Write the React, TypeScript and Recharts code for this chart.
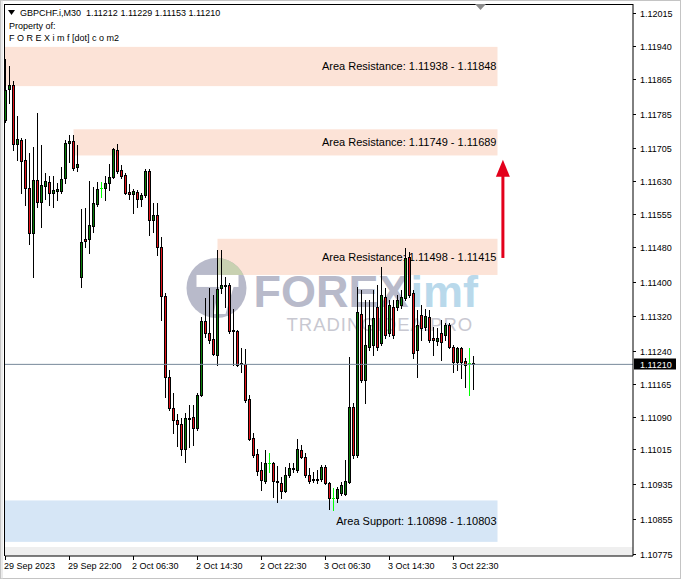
import React from 'react';
import { ComposedChart, Bar, XAxis, YAxis, ReferenceArea, ReferenceLine } from 'recharts';

// ---------- DATA (GBPCHF.i M30) ----------
const opens = [
  1.11770, 1.11841, 1.11851, 1.11715, 1.11724, 1.11679, 1.11614, 1.11511, 1.11633, 1.11582,
  1.11619, 1.11628, 1.11603, 1.11608, 1.11608, 1.11637, 1.11718, 1.11722, 1.11663, 1.11410,
  1.11497, 1.11497, 1.11527, 1.11578, 1.11614, 1.11614, 1.11626, 1.11640, 1.11702, 1.11656,
  1.11644, 1.11605, 1.11601, 1.11605, 1.11589, 1.11598, 1.11653, 1.11541, 1.11553, 1.11479,
  1.11367, 1.11181, 1.11110, 1.11082, 1.11073, 1.11016, 1.11087, 1.11089, 1.11064, 1.11140,
  1.11309, 1.11282, 1.11268, 1.11231, 1.11385, 1.11390, 1.11392, 1.11289, 1.11287, 1.11213,
  1.11211, 1.11131, 1.11041, 1.11004, 1.10968, 1.10943, 1.10984, 1.10983, 1.10943, 1.10938,
  1.10920, 1.10956, 1.10970, 1.10968, 1.11014, 1.10998, 1.10956, 1.10947, 1.10945, 1.10947,
  1.10975, 1.10938, 1.10904, 1.10904, 1.10915, 1.10913, 1.10940, 1.11112, 1.11002, 1.11326,
  1.11174, 1.11250, 1.11254, 1.11342, 1.11259, 1.11364, 1.11282, 1.11342, 1.11342, 1.11346,
  1.11362, 1.11456, 1.11374, 1.11243, 1.11323, 1.11296, 1.11319, 1.11270, 1.11264, 1.11282,
  1.11277, 1.11300, 1.11250, 1.11215, 1.11248, 1.11218, 1.11212, 1.11212,
];
const highs = [
  1.11910, 1.11894, 1.11860, 1.11780, 1.11729, 1.11727, 1.11695, 1.11708, 1.11786, 1.11713,
  1.11649, 1.11642, 1.11642, 1.11626, 1.11663, 1.11724, 1.11736, 1.11736, 1.11713, 1.11566,
  1.11569, 1.11630, 1.11617, 1.11628, 1.11628, 1.11642, 1.11669, 1.11706, 1.11715, 1.11667,
  1.11649, 1.11624, 1.11612, 1.11610, 1.11603, 1.11658, 1.11658, 1.11580, 1.11580, 1.11502,
  1.11374, 1.11197, 1.11144, 1.11096, 1.11087, 1.11098, 1.11117, 1.11117, 1.11144, 1.11319,
  1.11362, 1.11385, 1.11369, 1.11472, 1.11472, 1.11410, 1.11397, 1.11337, 1.11289, 1.11248,
  1.11245, 1.11140, 1.11053, 1.11016, 1.10986, 1.11014, 1.11007, 1.10986, 1.10977, 1.10952,
  1.10975, 1.10984, 1.10984, 1.11039, 1.11025, 1.11007, 1.10972, 1.10963, 1.10968, 1.10979,
  1.10979, 1.10940, 1.10927, 1.10929, 1.10940, 1.10991, 1.11227, 1.11121, 1.11387, 1.11381,
  1.11358, 1.11358, 1.11381, 1.11392, 1.11433, 1.11385, 1.11358, 1.11358, 1.11369, 1.11381,
  1.11477, 1.11468, 1.11381, 1.11335, 1.11346, 1.11337, 1.11335, 1.11296, 1.11293, 1.11312,
  1.11305, 1.11305, 1.11254, 1.11250, 1.11250, 1.11225, 1.11248, 1.11229,
];
const lows = [
  1.11766, 1.11809, 1.11702, 1.11679, 1.11603, 1.11575, 1.11486, 1.11410, 1.11571, 1.11525,
  1.11589, 1.11575, 1.11571, 1.11587, 1.11603, 1.11626, 1.11674, 1.11656, 1.11653, 1.11387,
  1.11479, 1.11465, 1.11514, 1.11573, 1.11594, 1.11587, 1.11610, 1.11637, 1.11649, 1.11637,
  1.11601, 1.11589, 1.11557, 1.11571, 1.11573, 1.11594, 1.11507, 1.11514, 1.11461, 1.11312,
  1.11135, 1.11105, 1.11053, 1.11023, 1.11002, 1.10986, 1.11021, 1.11025, 1.11060, 1.11137,
  1.11273, 1.11259, 1.11231, 1.11209, 1.11374, 1.11342, 1.11282, 1.11209, 1.11206, 1.11193,
  1.11124, 1.11037, 1.10998, 1.10956, 1.10922, 1.10938, 1.10963, 1.10906, 1.10894, 1.10904,
  1.10917, 1.10952, 1.10963, 1.10963, 1.10995, 1.10952, 1.10938, 1.10940, 1.10938, 1.10943,
  1.10936, 1.10878, 1.10876, 1.10894, 1.10910, 1.10910, 1.10938, 1.10995, 1.10998, 1.11170,
  1.11121, 1.11243, 1.11231, 1.11243, 1.11254, 1.11270, 1.11275, 1.11270, 1.11335, 1.11339,
  1.11358, 1.11364, 1.11225, 1.11181, 1.11266, 1.11289, 1.11261, 1.11231, 1.11254, 1.11220,
  1.11266, 1.11248, 1.11193, 1.11197, 1.11179, 1.11158, 1.11140, 1.11153,
];
const closes = [
  1.11839, 1.11851, 1.11715, 1.11727, 1.11676, 1.11614, 1.11511, 1.11633, 1.11582, 1.11621,
  1.11630, 1.11603, 1.11610, 1.11612, 1.11635, 1.11718, 1.11722, 1.11660, 1.11669, 1.11491,
  1.11493, 1.11530, 1.11580, 1.11612, 1.11614, 1.11626, 1.11640, 1.11704, 1.11653, 1.11642,
  1.11603, 1.11601, 1.11608, 1.11589, 1.11598, 1.11653, 1.11541, 1.11553, 1.11479, 1.11367,
  1.11181, 1.11110, 1.11082, 1.11073, 1.11016, 1.11087, 1.11085, 1.11064, 1.11140, 1.11309,
  1.11282, 1.11266, 1.11234, 1.11383, 1.11392, 1.11392, 1.11287, 1.11287, 1.11209, 1.11211,
  1.11128, 1.11039, 1.11002, 1.10965, 1.10945, 1.10984, 1.10984, 1.10943, 1.10940, 1.10920,
  1.10956, 1.10972, 1.10972, 1.11016, 1.10998, 1.10956, 1.10943, 1.10945, 1.10947, 1.10975,
  1.10938, 1.10904, 1.10904, 1.10924, 1.10933, 1.10943, 1.11112, 1.11002, 1.11330, 1.11174,
  1.11254, 1.11300, 1.11316, 1.11250, 1.11369, 1.11277, 1.11346, 1.11277, 1.11358, 1.11364,
  1.11454, 1.11369, 1.11236, 1.11300, 1.11293, 1.11321, 1.11266, 1.11266, 1.11270, 1.11261,
  1.11300, 1.11250, 1.11215, 1.11248, 1.11215, 1.11209, 1.11212, 1.11210,
];

const timeTickIdx = [0, 16, 32, 48, 64, 80, 96, 112];
const timeTickLabels = [
  '29 Sep 2023', '29 Sep 22:00', '2 Oct 06:30', '2 Oct 14:30',
  '2 Oct 22:30', '3 Oct 06:30', '3 Oct 14:30', '3 Oct 22:30',
];
const priceTicks = [
  1.12015, 1.1194, 1.11865, 1.11785, 1.11705, 1.1163, 1.11555, 1.1148, 1.114,
  1.1132, 1.1124, 1.1121, 1.11165, 1.1109, 1.11015, 1.10935, 1.10855, 1.10775,
];
const lastPrice = 1.1121;

const resistanceHigh = [1.11938, 1.11749, 1.11498];
const resistanceLow = [1.11848, 1.11689, 1.11415];
const resistanceStartBar = [-0.125, 17, 53];
const supportHigh = 1.10898;
const supportLow = 1.10803;
const zoneEndBar = 123;

const headerSymbol = 'GBPCHF.i,M30';
const headerOHLC = ['1.11212', '1.11229', '1.11153', '1.11210'];

// ---------- LAYOUT ----------
const W = 681;
const H = 579;
const X_MIN = -0.125;
const X_MAX = 156.875;
const Y_MIN = 1.107706;
const Y_MAX = 1.120363;
const FONT = '"Liberation Sans", Arial, sans-serif';

const data = opens.map((o, i) => ({
  i,
  o,
  h: highs[i],
  l: lows[i],
  c: closes[i],
  range: [lows[i], highs[i]],
}));

const Candle = (props: any) => {
  const { x, y, width, height, payload } = props;
  if (x == null || y == null || !payload) return null;
  const { o, h, l, c } = payload;
  const cx = Math.floor(x + width / 2) + 0.5;
  const k = h - l > 0 ? height / (h - l) : 0;
  const py = (v: number) => y + (h - v) * k;
  const yH = Math.round(py(h));
  const yL = Math.round(py(l));
  if (o === c) {
    const yy = Math.round(py(o)) + 0.5;
    return (
      <g>
        <line x1={cx} x2={cx} y1={yH} y2={yL + 1} stroke="#00ff00" strokeWidth={1} />
        <line x1={cx - 1.5} x2={cx + 1.5} y1={yy} y2={yy} stroke="#00ff00" strokeWidth={1} />
      </g>
    );
  }
  const top = Math.round(Math.min(py(o), py(c)));
  const bot = Math.round(Math.max(py(o), py(c)));
  const bull = c > o;
  return (
    <g>
      <line x1={cx} x2={cx} y1={yH} y2={yL + 1} stroke="#000" strokeWidth={1} />
      <rect
        x={cx - 1}
        y={top + 0.5}
        width={2}
        height={Math.max(bot - top, 1)}
        fill={bull ? '#0a7f0a' : '#e4141b'}
        stroke="#000"
        strokeWidth={1}
      />
    </g>
  );
};

const TimeTick = (props: any) => {
  const { x, y, payload } = props;
  const idx = timeTickIdx.indexOf(payload.value);
  const xx = Math.floor(x) + 0.5;
  return (
    <g>
      <line x1={xx} x2={xx} y1={y} y2={y + 4} stroke="#000" strokeWidth={1} />
      <text x={xx - 1.5} y={y + 13} fontSize={9} fontFamily={FONT} fill="#000" textAnchor="start">
        {idx >= 0 ? timeTickLabels[idx] : ''}
      </text>
    </g>
  );
};

const PriceTick = (props: any) => {
  const { x, y, payload } = props;
  const v = payload.value as number;
  const yy = Math.round(y) + 0.5;
  if (Math.abs(v - lastPrice) < 1e-7) {
    return (
      <g>
        <rect x={x + 1} y={yy - 6} width={42} height={11} fill="#000" />
        <text x={x + 7} y={yy + 3} fontSize={9} fontFamily={FONT} fill="#fff">
          {v.toFixed(5)}
        </text>
      </g>
    );
  }
  return (
    <g>
      <line x1={x} x2={x + 3} y1={yy} y2={yy} stroke="#000" strokeWidth={1} />
      <text x={x + 7} y={yy + 3} fontSize={9} fontFamily={FONT} fill="#000">
        {v.toFixed(5)}
      </text>
    </g>
  );
};

const zoneShape = (fill: string, label: string) => (p: any) => {
  const { x, y, width, height } = p;
  if (x == null) return null;
  return (
    <g>
      <rect x={x} y={y} width={width} height={height} fill={fill} stroke="none" />
      <text
        x={x + width - 1}
        y={y + height / 2 + 4}
        fontSize={11}
        fontFamily={FONT}
        fill="#000"
        textAnchor="end"
      >
        {label}
      </text>
    </g>
  );
};

const ArrowShape = (p: any) => {
  const { x, y, width, height } = p;
  if (x == null) return null;
  const cx = x + width / 2;
  const head = 17;
  return (
    <g>
      <rect x={cx - 1.5} y={y + head - 1} width={3} height={height - head + 1} fill="#e3001b" />
      <polygon points={`${x},${y + head} ${x + width},${y + head} ${cx},${y}`} fill="#e3001b" />
    </g>
  );
};

const WatermarkShape = (p: any) => {
  const { x, y } = p;
  if (x == null) return null;
  const ox = x;
  const oy = y;
  return (
    <g opacity={0.62}>
      <defs>
        <clipPath id="wmclip">
          <circle cx={ox + 33} cy={oy + 30} r={30} />
        </clipPath>
      </defs>
      <circle cx={ox + 33} cy={oy + 30} r={30} fill="#8e90aa" />
      <g clipPath="url(#wmclip)">
        <rect x={ox + 34} y={oy - 2} width={32} height={19} fill="#a9c79a" />
      </g>
      <rect x={ox + 13} y={oy + 17} width={42} height={12} fill="#ffffff" />
      <polygon
        points={`${ox + 36},${oy + 29} ${ox + 50},${oy + 29} ${ox + 42},${oy + 56} ${ox + 30},${oy + 56}`}
        fill="#ffffff"
      />
      <text x={ox + 70} y={oy + 49} fontSize={45} fontWeight="bold" fontFamily={FONT} fill="#8e90aa">
        FOREX
      </text>
      <text x={ox + 227} y={oy + 49} fontSize={45} fontWeight="bold" fontFamily={FONT} fill="#8fc2e0">
        imf
      </text>
      <text
        x={ox + 103}
        y={oy + 73}
        fontSize={18.5}
        fontFamily={FONT}
        fill="#a8a8b6"
        letterSpacing={1}
      >
        TRADINGIDEA.PRO
      </text>
    </g>
  );
};

export default function App() {
  return (
    <div style={{ position: 'absolute', left: 0, top: 0, width: W, height: H, background: '#fff' }}>
      <ComposedChart
        width={W}
        height={H}
        data={data}
        margin={{ top: 4, right: 0, bottom: 0, left: 5 }}
      >
        <XAxis
          dataKey="i"
          type="number"
          domain={[X_MIN, X_MAX]}
          allowDataOverflow
          ticks={timeTickIdx}
          interval={0}
          height={23}
          tickSize={0}
          tickMargin={0}
          tickLine={false}
          axisLine={{ stroke: '#000' }}
          tick={<TimeTick />}
        />
        <YAxis
          orientation="right"
          type="number"
          domain={[Y_MIN, Y_MAX]}
          allowDataOverflow
          ticks={priceTicks}
          interval={0}
          width={48}
          tickSize={0}
          tickMargin={0}
          tickLine={false}
          axisLine={{ stroke: '#000' }}
          tick={<PriceTick />}
        />
        {resistanceHigh.map((hi, k) => (
          <ReferenceArea
            key={'r' + k}
            x1={resistanceStartBar[k]}
            x2={zoneEndBar}
            y1={resistanceLow[k]}
            y2={hi}
            ifOverflow="hidden"
            shape={zoneShape('#fce3d7', `Area Resistance: ${hi.toFixed(5)} - ${resistanceLow[k].toFixed(5)}`)}
          />
        ))}
        <ReferenceArea
          x1={X_MIN}
          x2={zoneEndBar}
          y1={supportLow}
          y2={supportHigh}
          ifOverflow="hidden"
          shape={zoneShape('#d6e6f6', `Area Support: ${supportHigh.toFixed(5)} - ${supportLow.toFixed(5)}`)}
        />
        <ReferenceArea
          x1={X_MIN}
          x2={X_MAX}
          y1={Y_MIN}
          y2={1.10791}
          ifOverflow="hidden"
          fill="#efefef"
          fillOpacity={1}
          stroke="none"
        />
        <ReferenceArea
          x1={44.5}
          x2={120.5}
          y1={1.11282}
          y2={1.11454}
          ifOverflow="visible"
          shape={WatermarkShape}
        />
        <ReferenceLine y={lastPrice} stroke="#778899" strokeWidth={1} ifOverflow="hidden" />
        <ReferenceArea
          x1={122.6}
          x2={126.1}
          y1={1.11454}
          y2={1.11679}
          ifOverflow="visible"
          shape={ArrowShape}
        />
        <Bar dataKey="range" barSize={3} shape={<Candle />} isAnimationActive={false} />
      </ComposedChart>
      <svg
        width={W}
        height={H}
        style={{ position: 'absolute', left: 0, top: 0, pointerEvents: 'none' }}
      >
        <rect x={0.5} y={0.5} width={W - 1} height={H - 1} fill="none" stroke="#c4c4c4" strokeWidth={1} />
        <line x1={2} x2={2} y1={0} y2={H} stroke="#d8d8d8" strokeWidth={1} />
        <line x1={4.5} x2={4.5} y1={4} y2={556} stroke="#000" strokeWidth={1} />
        <line x1={4} x2={633} y1={4.5} y2={4.5} stroke="#000" strokeWidth={1} />
        <polygon points="475,4 486,4 480.5,10" fill="#8c8c8c" />
        <polygon points="8,10 15,10 11.5,15" fill="#000" />
        <text x={20} y={16} fontSize={9} fontFamily={FONT} fill="#000" xmlSpace="preserve">
          {`${headerSymbol}  ${headerOHLC.join(' ')}`}
        </text>
        <text x={9} y={28.5} fontSize={9} fontFamily={FONT} fill="#000">
          Property of:
        </text>
        <text x={9} y={40.5} fontSize={9} fontFamily={FONT} fill="#000">
          F O R E X i m f [dot] c o m2
        </text>
      </svg>
    </div>
  );
}
